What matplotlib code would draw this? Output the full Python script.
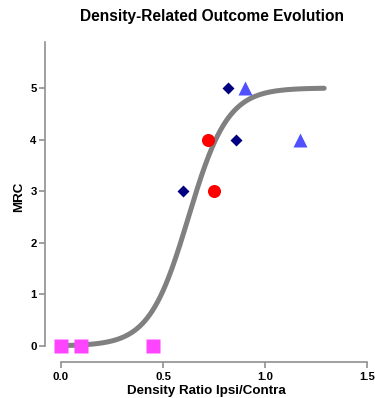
import numpy as np
import matplotlib
matplotlib.use("Agg")
import matplotlib.pyplot as plt

plt.rcParams['font.family'] = ['Liberation Sans', 'DejaVu Sans']

# Data
sq_x = [0.0, 0.10, 0.45]
sq_y = [0, 0, 0]
circ_x = [0.72, 0.75]
circ_y = [4, 3]
dia_x = [0.60, 0.82, 0.86]
dia_y = [3, 5, 4]
tri_x = [0.90, 1.17]
tri_y = [5, 4]

# Fitted sigmoid curve parameters
top = 5.0
v50 = 0.625
slope = 0.096
curve_x_range = (0.0, 1.29)

xticks = [0.0, 0.5, 1.0, 1.5]
xticklabels = ["0.0", "0.5", "1.0", "1.5"]
yticks = [0, 1, 2, 3, 4, 5]

W, H = 375, 398
fig = plt.figure(figsize=(W / 100, H / 100), dpi=100)

# axes pixel box
px_left, px_right = 45, 367
px_top, px_bottom = 42, 362
ax = fig.add_axes([px_left / W, 1 - px_bottom / H, (px_right - px_left) / W, (px_bottom - px_top) / H])

xpx0, xpx_per = 61, 204.0
ypx0, ypx_per = 346, 51.6
ax.set_xlim((px_left - xpx0) / xpx_per, (px_right - xpx0) / xpx_per)
ax.set_ylim((ypx0 - px_bottom) / ypx_per, (ypx0 - px_top) / ypx_per)

cx = np.linspace(curve_x_range[0], curve_x_range[1], 300)
cy = top / (1 + np.exp((v50 - cx) / slope))
ax.plot(cx, cy, color='#808080', lw=3.6, solid_capstyle='round', zorder=1)

ax.plot(sq_x, sq_y, 's', color='#FF44FF', ms=9.4, mec='none', zorder=3, clip_on=False)
ax.plot(circ_x, circ_y, 'o', color='#FF0000', ms=9.4, mec='none', zorder=3)
ax.plot(dia_x, dia_y, 'D', color='#000080', ms=6.6, mec='none', zorder=3)
ax.plot(tri_x, tri_y, '^', color='#5050FF', ms=9.4, mec='none', zorder=3)

for s in ['top', 'right']:
    ax.spines[s].set_visible(False)
for s in ['left', 'bottom']:
    ax.spines[s].set_color('#909090')
    ax.spines[s].set_linewidth(1.2)
ax.spines['left'].set_bounds(0, (ypx0 - px_top) / ypx_per)
ax.spines['bottom'].set_bounds(0, 1.5)

ax.set_xticks(xticks)
ax.set_xticklabels(xticklabels)
ax.set_yticks(yticks)
ax.tick_params(axis='both', colors='#909090', length=4, width=1.2, labelcolor='black', labelsize=8.2)
ax.tick_params(axis='y', pad=2)
for lbl in ax.get_xticklabels() + ax.get_yticklabels():
    lbl.set_fontweight('bold')

ax.set_xlabel("Density Ratio Ipsi/Contra", fontsize=9.6, fontweight='bold', labelpad=2)
ax.set_ylabel("MRC", fontsize=9.6, fontweight='bold', labelpad=5)
ax.yaxis.set_label_coords((25 - px_left) / (px_right - px_left), (px_bottom - 197) / (px_bottom - px_top))

fig.text(212 / W, 1 - 17 / H, "Density-Related Outcome Evolution", ha='center', va='center',
         fontsize=11.2, fontweight='bold')

fig.savefig("out.png", dpi=100)
